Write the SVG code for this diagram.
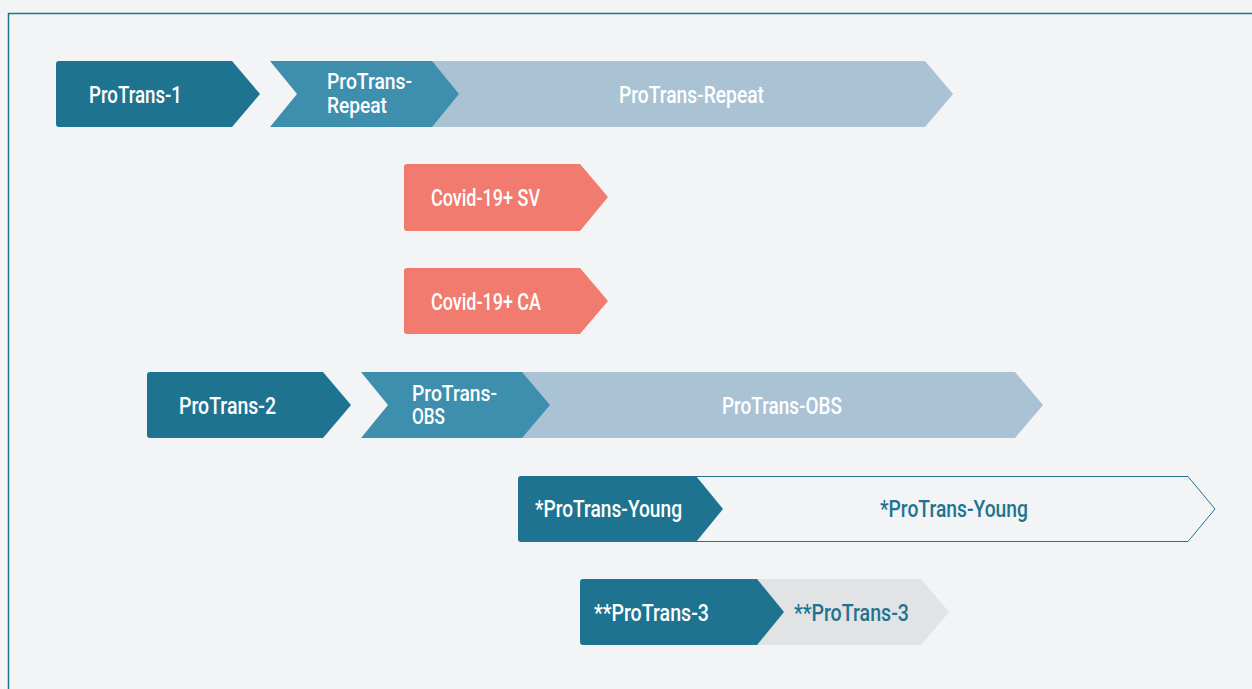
<svg xmlns="http://www.w3.org/2000/svg" width="1252" height="689" viewBox="0 0 1252 689">
  <style>
    .bg { fill: #f2f4f6; }
    .frame { fill: none; stroke: #1e7490; stroke-width: 1.5; }
    .dark { fill: #1e7490; }
    .mid { fill: #3e8fad; }
    .light { fill: #a9c2d4; }
    .coral { fill: #f07b6e; }
    .grey { fill: #e1e3e5; }
    .outline { fill: #f2f4f6; stroke: #1e7490; stroke-width: 1; }
    text { font-family: Roboto, "Liberation Sans", sans-serif; font-size: 23px; font-weight: 500; }
    .two { font-size: 22px; }
    .w { fill: #ffffff; }
    .t { fill: #1e7490; }
  </style>
  <rect class="bg" x="0" y="0" width="1252" height="689"/>
  <rect class="frame" x="8.5" y="13.5" width="1260" height="700"/>

  <!-- row 1 -->
  <g id="protrans-repeat-long">
    <polygon class="light" points="420,61 925,61 953,94 925,127 420,127"/>
    <text class="w" x="619" y="103" textLength="145" lengthAdjust="spacingAndGlyphs">ProTrans-Repeat</text>
  </g>
  <g id="protrans-1">
    <path class="dark" d="M59,61 H232 L260,94 L232,127 H59 Q56,127 56,124 V64 Q56,61 59,61 Z"/>
    <text class="w" x="89" y="103" textLength="93" lengthAdjust="spacingAndGlyphs">ProTrans-1</text>
  </g>
  <g id="protrans-repeat">
    <polygon class="mid" points="270,61 432,61 459,94 432,127 270,127 297,94"/>
    <text class="w two" x="327" y="89" textLength="85" lengthAdjust="spacingAndGlyphs">ProTrans-</text>
    <text class="w two" x="327" y="113" textLength="60" lengthAdjust="spacingAndGlyphs">Repeat</text>
  </g>

  <!-- covid rows -->
  <g id="covid-sv">
    <path class="coral" d="M407,164 H580 L608,197 L580,231 H407 Q404,231 404,228 V167 Q404,164 407,164 Z"/>
    <text class="w" x="431" y="206" textLength="109" lengthAdjust="spacingAndGlyphs">Covid-19+ SV</text>
  </g>
  <g id="covid-ca">
    <path class="coral" d="M407,268 H580 L608,301 L580,334 H407 Q404,334 404,331 V271 Q404,268 407,268 Z"/>
    <text class="w" x="431" y="310" textLength="110" lengthAdjust="spacingAndGlyphs">Covid-19+ CA</text>
  </g>

  <!-- row 4 -->
  <g id="protrans-obs-long">
    <polygon class="light" points="510,372 1015,372 1043,405 1015,438 510,438"/>
    <text class="w" x="722" y="414" textLength="120" lengthAdjust="spacingAndGlyphs">ProTrans-OBS</text>
  </g>
  <g id="protrans-2">
    <path class="dark" d="M150,372 H323 L351,405 L323,438 H150 Q147,438 147,435 V375 Q147,372 150,372 Z"/>
    <text class="w" x="179" y="414" textLength="97" lengthAdjust="spacingAndGlyphs">ProTrans-2</text>
  </g>
  <g id="protrans-obs">
    <polygon class="mid" points="361,372 522,372 550,405 522,438 361,438 388,405"/>
    <text class="w two" x="412" y="401" textLength="85" lengthAdjust="spacingAndGlyphs">ProTrans-</text>
    <text class="w two" x="412" y="424" textLength="33" lengthAdjust="spacingAndGlyphs">OBS</text>
  </g>

  <!-- row 5 -->
  <g id="protrans-young-long">
    <polygon class="outline" points="690,476.5 1188,476.5 1215,509 1188,541.5 690,541.5"/>
    <text class="t" x="880" y="517" textLength="148" lengthAdjust="spacingAndGlyphs">*ProTrans-Young</text>
  </g>
  <g id="protrans-young">
    <path class="dark" d="M521,476 H696 L723,509 L696,542 H521 Q518,542 518,539 V479 Q518,476 521,476 Z"/>
    <text class="w" x="535" y="517" textLength="147" lengthAdjust="spacingAndGlyphs">*ProTrans-Young</text>
  </g>

  <!-- row 6 -->
  <g id="protrans-3-long">
    <polygon class="grey" points="750,579 921,579 949,612 921,645 750,645"/>
    <text class="t" x="794" y="621" textLength="115" lengthAdjust="spacingAndGlyphs">**ProTrans-3</text>
  </g>
  <g id="protrans-3">
    <path class="dark" d="M583,579 H757 L784,612 L757,645 H583 Q580,645 580,642 V582 Q580,579 583,579 Z"/>
    <text class="w" x="594" y="621" textLength="115" lengthAdjust="spacingAndGlyphs">**ProTrans-3</text>
  </g>

  <g id="connectors"/>
</svg>
